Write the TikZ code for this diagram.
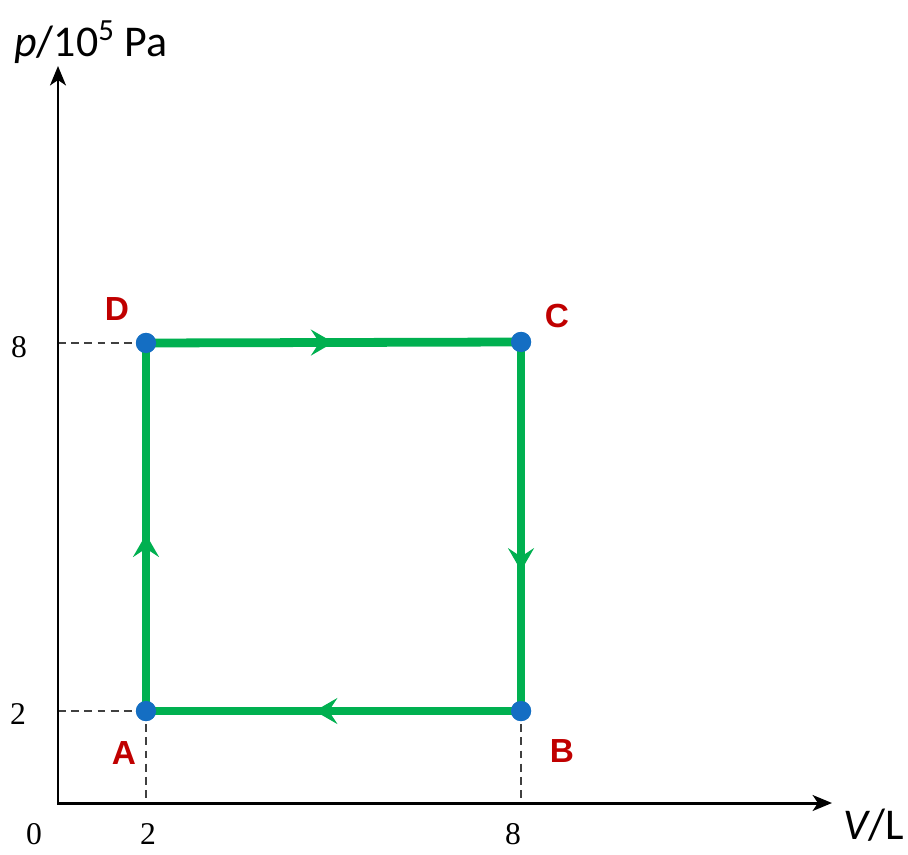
\documentclass[tikz,border=0pt]{standalone}
\usepackage{fontspec}
\setmainfont{Liberation Serif}
\newfontfamily\calfont{Carlito}
\newfontfamily\arialfont{Liberation Sans}
\usetikzlibrary{arrows.meta,decorations.markings}
\definecolor{cyclegreen}{RGB}{0,176,80}
\definecolor{dotblue}{RGB}{20,110,195}
\definecolor{labred}{RGB}{192,0,0}
\tikzset{
  axis/.style={line width=1.7pt,-{Stealth[length=11pt,width=9pt,inset=3pt]}},
  guide/.style={line width=0.85pt,dash pattern=on 4.5pt off 3pt,black!75},
  cyc/.style={line width=5pt,cyclegreen},
  midarrow/.style={postaction={decorate},decoration={markings,mark=at position #1 with {\arrow{Stealth[length=13pt,width=15pt,inset=5pt,cyclegreen,line width=0pt]}}}},
  dot/.style={circle,fill=dotblue,inner sep=0pt,minimum size=11.5pt},
  ptlab/.style={text=labred,font=\arialfont\bfseries\fontsize{19}{22}\selectfont,inner sep=0pt},
  tick/.style={font=\fontsize{18}{20}\selectfont,inner sep=0pt},
  axlab/.style={font=\calfont\fontsize{25}{29}\selectfont,inner sep=0pt}
}
\begin{document}
\begin{tikzpicture}[x=0.02cm,y=-0.02cm]
\useasboundingbox (0,0) rectangle (908,854);
\coordinate (O) at (58,803);
\coordinate (Ytop) at (58,66);
\coordinate (Xend) at (832,803);
\coordinate (Ay) at (58,711);
\coordinate (Dy) at (58,343);
\coordinate (Ax) at (146,803);
\coordinate (Bx) at (521,803);
\node[dot] (A) at (146,711) {};
\node[dot] (B) at (521,711) {};
\node[dot] (C) at (521,342) {};
\node[dot] (D) at (146,343) {};
% guides
\draw[guide] (Dy) -- (D.center);
\draw[guide] (Ay) -- (A.center);
\draw[guide] (A.center) -- (Ax);
\draw[guide] (B.center) -- (Bx);
% axes
\draw[axis] (O) -- (Ytop);
\draw[axis] (O) -- (Xend);
\draw[line width=1.7pt] ([yshift=-0.85pt]O) -- ([yshift=0.85pt]O);
% cycle
\draw[cyc,midarrow=0.5] (D.center) -- (C.center);
\draw[cyc,midarrow=0.62] (C.center) -- (B.center);
\draw[cyc,midarrow=0.55] (B.center) -- (A.center);
\draw[cyc,midarrow=0.48] (A.center) -- (D.center);
\node[dot] at (A) {};
\node[dot] at (B) {};
\node[dot] at (C) {};
\node[dot] at (D) {};
% labels
\node[ptlab] (lA) at (124,753) {A};
\node[ptlab] (lB) at (562,751) {B};
\node[ptlab] (lC) at (557,316) {C};
\node[ptlab] (lD) at (117,309) {D};
\node[tick] (t8y) at (19,347) {8};
\node[tick] (t2y) at (18,714) {2};
\node[tick] (t0) at (34,834) {0};
\node[tick] (t2x) at (148,834) {2};
\node[tick] (t8x) at (513,834) {8};
\node[axlab,anchor=west] (ylab) at (14,42) {\itshape p\upshape/10\textsuperscript{5} Pa};
\node[axlab,anchor=west] (xlab) at (843,825) {\itshape V\upshape/L};
\end{tikzpicture}
\end{document}
